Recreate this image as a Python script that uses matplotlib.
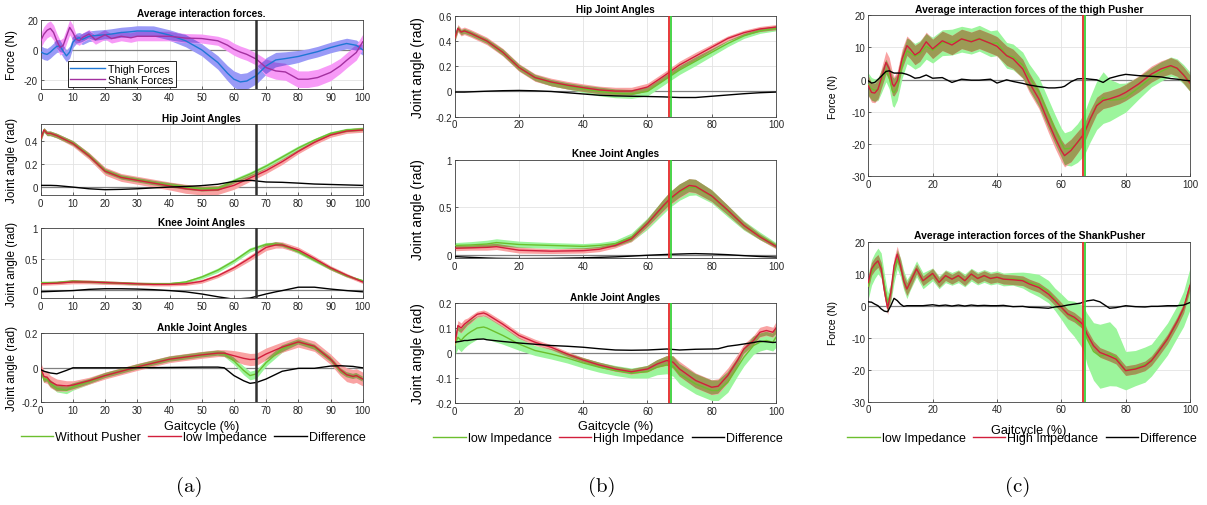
import numpy as np
import matplotlib
matplotlib.use('Agg')
import matplotlib.pyplot as plt
from matplotlib.lines import Line2D
from matplotlib.ticker import FuncFormatter

plt.rcParams['font.family'] = ['Liberation Sans', 'DejaVu Sans']
plt.rcParams['axes.unicode_minus'] = False

# ---------------- data ----------------
# (a) top: average interaction forces
A1_X = [0, 1, 2, 3, 4, 5, 6, 7, 8, 9, 10, 11, 12, 13, 15, 17, 20, 22, 25, 28, 30, 35, 40, 45, 50,
        55, 58, 60, 62, 64, 67, 70, 73, 76, 80, 83, 86, 90, 93, 95, 98, 100]
THIGH_A = [-1.3, -2.5, -3, -1.5, 0.5, 2.3, 2.5, -1, -4, -1.5, 5, 7.5, 8, 7, 9, 9.5, 10, 10.5, 11.5, 12,
           12.5, 12.4, 9.8, 6, 0, -8.4, -15.5, -19.5, -21.3, -20.7, -17, -10.7, -6.7, -5.8, -4.4, -2.8,
           -1.2, 1.5, 3.2, 4.2, 3, 0]
THIGH_A_SD = [4, 4, 4, 4, 4, 4, 4, 4, 4, 4, 3.5, 3.5, 3.5, 3.5, 3.5, 3.5, 3.5, 3.5, 3.5, 3.5,
              3.5, 3.5, 3.5, 4, 4, 4.5, 5, 5.5, 5.5, 5.5, 5.5, 5.5, 5, 4.5, 4, 3.5,
              3.5, 3.5, 3.5, 3.5, 3.5, 3.5]
SHANK_A = [6, 10.4, 13, 14.2, 11.5, 6, 1.5, 3, 9, 14.9, 11.5, 7, 6, 8.2, 10.5, 6.7, 10, 7.5, 9, 8,
           9, 9, 9, 7.8, 7.5, 6, 3.1, 0.4, -1.5, -3, -6.2, -11.8, -14, -14.7, -19.5, -19.5,
           -18.4, -15, -10.7, -7, -1.8, 5.3]
SHANK_A_SD = [5, 5, 5, 5, 5, 5, 5, 5, 5, 5, 5, 3, 3, 3, 3, 3, 3, 3, 3, 3,
              3, 3, 3, 3, 3, 3, 4, 4, 4, 4, 4, 5.5, 5.5, 5.5, 5.5, 5.5,
              5.5, 5.5, 5, 5, 5, 5]

# hip (a) and (b) share a grid
HIP_X = [0, 1, 2, 3, 5, 10, 15, 20, 25, 30, 35, 40, 45, 50, 55, 60, 65, 70, 75, 80, 85, 90, 95, 100]
HIP_A_WO = [0.42, 0.50, 0.47, 0.47, 0.45, 0.385, 0.275, 0.14, 0.085, 0.06, 0.035, 0.015, -0.005, -0.02,
            -0.015, 0.05, 0.11, 0.18, 0.26, 0.34, 0.41, 0.47, 0.50, 0.51]
HIP_A_LOW = [0.42, 0.50, 0.47, 0.47, 0.45, 0.38, 0.27, 0.135, 0.08, 0.055, 0.03, 0.005, -0.02, -0.035,
             -0.03, 0.01, 0.075, 0.14, 0.22, 0.31, 0.39, 0.455, 0.49, 0.50]
HIP_A_DIFF = [0.01, 0.01, 0.01, 0.01, 0.008, -0.005, -0.02, -0.028, -0.025, -0.02, -0.012, -0.005, 0.0,
              0.008, 0.02, 0.045, 0.055, 0.04, 0.037, 0.03, 0.022, 0.018, 0.014, 0.01]
HIP_A_WO_SD = [0.02, 0.02, 0.02, 0.02, 0.02, 0.02, 0.02, 0.02, 0.02, 0.02, 0.02, 0.02, 0.02, 0.02,
               0.02, 0.02, 0.02, 0.02, 0.02, 0.02, 0.015, 0.015, 0.015, 0.015]
HIP_A_LOW_SD = [0.02, 0.02, 0.02, 0.02, 0.02, 0.025, 0.03, 0.035, 0.035, 0.035, 0.035, 0.035, 0.04, 0.04,
                0.04, 0.035, 0.03, 0.025, 0.025, 0.02, 0.02, 0.02, 0.02, 0.02]

KNEE_A_X = [0, 5, 10, 15, 20, 25, 30, 35, 40, 45, 50, 55, 60, 65, 70, 73, 75, 80, 85, 90, 95, 100]
KNEE_A_WO = [0.12, 0.12, 0.14, 0.13, 0.12, 0.11, 0.10, 0.10, 0.10, 0.13, 0.21, 0.32, 0.47, 0.65, 0.74,
             0.745, 0.73, 0.62, 0.48, 0.35, 0.23, 0.15]
KNEE_A_LOW = [0.10, 0.11, 0.13, 0.13, 0.12, 0.11, 0.10, 0.09, 0.09, 0.10, 0.14, 0.23, 0.36, 0.52, 0.69,
              0.73, 0.73, 0.65, 0.51, 0.36, 0.24, 0.13]
KNEE_A_DIFF = [-0.03, -0.02, -0.01, 0.01, 0.02, 0.02, 0.015, 0.005, -0.01, -0.03, -0.065, -0.11, -0.15,
               -0.13, -0.065, -0.03, -0.01, 0.045, 0.045, 0.015, -0.01, -0.03]
KNEE_A_WO_SD = [0.02, 0.02, 0.02, 0.02, 0.02, 0.02, 0.02, 0.02, 0.02, 0.02, 0.03, 0.035, 0.035, 0.035,
                0.03, 0.03, 0.03, 0.03, 0.025, 0.025, 0.02, 0.02]
KNEE_A_LOW_SD = [0.025, 0.025, 0.03, 0.03, 0.03, 0.025, 0.025, 0.025, 0.025, 0.025, 0.03, 0.03, 0.035,
                 0.045, 0.05, 0.05, 0.05, 0.045, 0.04, 0.035, 0.03, 0.025]

ANK_A_X = [0, 1, 2, 3, 5, 8, 10, 15, 20, 25, 30, 40, 50, 55, 57, 60, 63, 65, 67, 70, 75, 80, 85, 90,
           93, 95, 97, 98, 100]
ANK_A_WO = [-0.005, -0.07, -0.065, -0.09, -0.12, -0.13, -0.11, -0.08, -0.045, -0.02, 0.005, 0.05, 0.075,
            0.085, 0.08, 0.04, -0.015, -0.045, -0.035, 0.03, 0.11, 0.15, 0.12, 0.05, -0.015, -0.04,
            -0.05, -0.045, -0.065]
ANK_A_LOW = [0.0, -0.05, -0.055, -0.08, -0.1, -0.105, -0.1, -0.075, -0.045, -0.02, 0.005, 0.05, 0.075,
             0.085, 0.085, 0.07, 0.055, 0.048, 0.05, 0.08, 0.12, 0.15, 0.125, 0.05, -0.01, -0.04,
             -0.05, -0.045, -0.065]
ANK_A_DIFF = [-0.01, -0.02, -0.025, -0.03, -0.035, -0.015, 0.0, 0.0, 0.0, 0.0, 0.0, 0.002, 0.004, 0.004,
              0.0, -0.045, -0.075, -0.09, -0.085, -0.065, -0.02, -0.003, -0.003, 0.01, 0.012, 0.01,
              0.008, 0.005, 0.0]
ANK_A_WO_SD = [0.01, 0.015, 0.015, 0.02, 0.02, 0.02, 0.02, 0.015, 0.015, 0.015, 0.015, 0.015, 0.015,
               0.015, 0.015, 0.02, 0.025, 0.025, 0.025, 0.02, 0.02, 0.015, 0.015, 0.015, 0.015, 0.015,
               0.015, 0.015, 0.015]
ANK_A_LOW_SD = [0.03, 0.035, 0.035, 0.035, 0.035, 0.03, 0.025, 0.02, 0.02, 0.02, 0.02, 0.02, 0.02, 0.02,
                0.02, 0.03, 0.035, 0.035, 0.035, 0.035, 0.03, 0.03, 0.03, 0.03, 0.035, 0.04, 0.04,
                0.04, 0.04]

# (b) low vs high impedance
HIP_B_HIGH = [0.42, 0.50, 0.47, 0.48, 0.46, 0.40, 0.31, 0.19, 0.11, 0.075, 0.05, 0.03, 0.012, 0.003,
              0.003, 0.035, 0.12, 0.21, 0.28, 0.35, 0.42, 0.465, 0.495, 0.51]
HIP_B_LOW = [0.42, 0.50, 0.47, 0.48, 0.46, 0.40, 0.31, 0.19, 0.11, 0.07, 0.045, 0.02, 0.0, -0.015,
             -0.02, 0.0, 0.085, 0.17, 0.24, 0.31, 0.38, 0.44, 0.48, 0.50]
HIP_B_DIFF = [-0.005, -0.005, -0.005, -0.005, -0.003, 0.002, 0.006, 0.008, 0.005, 0.0, -0.01, -0.02,
              -0.03, -0.035, -0.038, -0.04, -0.043, -0.048, -0.048, -0.038, -0.028, -0.018, -0.01, -0.005]
HIP_B_HIGH_SD = [0.03, 0.03, 0.03, 0.03, 0.03, 0.03, 0.03, 0.03, 0.03, 0.03, 0.03, 0.03, 0.03, 0.03,
                 0.03, 0.03, 0.03, 0.03, 0.03, 0.025, 0.02, 0.02, 0.02, 0.02]
HIP_B_LOW_SD = [0.02, 0.02, 0.02, 0.02, 0.02, 0.02, 0.025, 0.025, 0.025, 0.025, 0.025, 0.03, 0.035,
                0.035, 0.035, 0.035, 0.035, 0.035, 0.035, 0.03, 0.025, 0.02, 0.02, 0.02]

KNEE_B_X = [0, 5, 10, 13, 20, 30, 40, 45, 50, 55, 60, 65, 67, 70, 73, 75, 80, 85, 90, 95, 100]
KNEE_B_HIGH = [0.07, 0.075, 0.08, 0.087, 0.05, 0.04, 0.045, 0.06, 0.10, 0.17, 0.33, 0.52, 0.59, 0.67,
               0.73, 0.72, 0.62, 0.47, 0.31, 0.19, 0.09]
KNEE_B_LOW = [0.10, 0.105, 0.115, 0.13, 0.11, 0.10, 0.09, 0.10, 0.12, 0.185, 0.33, 0.51, 0.58, 0.66,
              0.71, 0.71, 0.615, 0.46, 0.31, 0.20, 0.10]
KNEE_B_DIFF = [-0.017, -0.025, -0.032, -0.035, -0.038, -0.036, -0.03, -0.025, -0.02, -0.012, -0.003,
               0.004, 0.007, 0.01, 0.013, 0.014, 0.01, 0.003, -0.007, -0.016, -0.022]
KNEE_B_HIGH_SD = [0.025, 0.025, 0.03, 0.03, 0.03, 0.025, 0.025, 0.025, 0.025, 0.03, 0.04, 0.06, 0.065,
                  0.07, 0.07, 0.07, 0.06, 0.05, 0.04, 0.03, 0.025]
KNEE_B_LOW_SD = [0.03, 0.035, 0.04, 0.04, 0.035, 0.03, 0.03, 0.03, 0.035, 0.045, 0.06, 0.075, 0.08,
                 0.085, 0.085, 0.08, 0.07, 0.06, 0.05, 0.04, 0.03]

ANK_B_X = [0, 1, 2, 3, 4, 5, 7, 9, 10, 15, 20, 25, 30, 35, 40, 45, 50, 55, 60, 63, 66, 68, 70, 75,
           80, 82, 85, 88, 90, 93, 95, 97, 99, 100]
ANK_B_HIGH = [0.035, 0.11, 0.10, 0.115, 0.125, 0.135, 0.155, 0.16, 0.155, 0.115, 0.07, 0.043, 0.023,
              -0.004, -0.028, -0.048, -0.064, -0.075, -0.064, -0.044, -0.03, -0.037, -0.064, -0.11,
              -0.137, -0.133, -0.09, -0.03, 0.016, 0.05, 0.083, 0.09, 0.083, 0.1]
ANK_B_LOW = [0.03, 0.063, 0.05, 0.065, 0.076, 0.085, 0.1, 0.104, 0.1, 0.07, 0.036, 0.01, -0.004, -0.02,
             -0.04, -0.057, -0.07, -0.08, -0.075, -0.057, -0.048, -0.053, -0.084, -0.124, -0.15, -0.15,
             -0.117, -0.057, -0.017, 0.03, 0.043, 0.05, 0.043, 0.063]
ANK_B_DIFF = [0.043, 0.045, 0.047, 0.05, 0.05, 0.052, 0.055, 0.056, 0.053, 0.046, 0.04, 0.035, 0.03,
              0.027, 0.023, 0.017, 0.012, 0.011, 0.012, 0.014, 0.016, 0.014, 0.012, 0.015, 0.016, 0.017,
              0.027, 0.032, 0.036, 0.042, 0.047, 0.045, 0.042, 0.043]
ANK_B_HIGH_SD = [0.02, 0.02, 0.02, 0.02, 0.015, 0.015, 0.012, 0.012, 0.012, 0.012, 0.012, 0.012, 0.01,
                 0.01, 0.01, 0.01, 0.01, 0.01, 0.012, 0.015, 0.02, 0.025, 0.03, 0.03, 0.03, 0.03, 0.03,
                 0.025, 0.02, 0.02, 0.02, 0.02, 0.02, 0.025]
ANK_B_LOW_SD = [0.04, 0.045, 0.045, 0.045, 0.045, 0.045, 0.045, 0.045, 0.045, 0.035, 0.025, 0.02, 0.02,
                0.02, 0.02, 0.02, 0.02, 0.02, 0.025, 0.03, 0.035, 0.04, 0.04, 0.04, 0.04, 0.04, 0.04,
                0.035, 0.035, 0.035, 0.035, 0.035, 0.035, 0.04]

# (c) pusher forces
THIGH_C_X = [0, 1, 2, 3, 4, 5.5, 6.5, 7.5, 8, 9, 10.5, 12, 13, 14.5, 16, 18, 20, 23, 26, 29, 32, 34.5,
             38, 40, 43, 45, 48, 50, 53, 56, 58, 60, 61, 63, 65, 67, 69, 71, 73, 75, 78, 80, 84, 88,
             91, 94, 96, 98, 100]
THIGH_C_HIGH = [-1.9, -4, -4.2, -3, 0.2, 5.3, 3.3, -1.4, -2.1, -0.4, 6.4, 10.5, 9.5, 7.6, 8.6, 11.7,
                9.5, 12, 10.7, 12.6, 11.7, 12.6, 11.2, 10.3, 7.4, 6.4, 3.3, -0.9, -6, -13.3, -17.9, -22,
                -23.6, -22, -19.5, -16.9, -12.2, -8.1, -6.5, -6, -5, -4, -1.4, 1.7, 3.3, 4.3, 3.5, 1.4,
                -1.1]
THIGH_C_LOW = [-1.5, -2.9, -3.3, -3, -0.8, 2.8, 0.6, -3.6, -4.1, -2.4, 4.4, 8.9, 8.3, 7.2, 8, 10.3,
               9.1, 11.4, 11.6, 12.5, 11.9, 12.8, 11.1, 11.4, 7.5, 7, 4.5, 0.8, -3.8, -10.7, -15.3,
               -19.6, -21.5, -21.3, -19.7, -17.2, -12.3, -8, -5.6, -6.4, -6.2, -5.6, -2.6, 0.7, 2.5, 4,
               3.4, 1.6, -0.7]
THIGH_C_DIFF = [-0.4, -1.1, -0.9, 0, 1, 2.5, 2.7, 2.2, 2, 2, 2, 1.6, 1.2, 0.4, 0.6, 1.4, 0.4, 0.6, -0.9,
                0.1, -0.2, -0.2, 0.1, -1.1, -0.1, -0.6, -1.2, -1.7, -2.2, -2.6, -2.6, -2.4, -2.1, -0.7,
                0.2, 0.3, 0.1, -0.1, -0.9, 0.4, 1.2, 1.6, 1.2, 1, 0.8, 0.3, 0.1, -0.2, -0.4]
THIGH_C_HIGH_SD = [3, 3, 3, 3, 3, 3.5, 3.5, 3.5, 3, 3, 3, 3, 3, 3, 3, 3, 3, 3, 3, 3, 3, 3, 3, 3, 3, 3,
                   3, 3, 3, 3.2, 3.3, 3.4, 3.5, 3.5, 3.3, 3, 2.8, 2.6, 2.5, 2.5, 2.5, 2.5, 2.5, 2.5, 2.5,
                   2.5, 2.5, 2.5, 2.5]
THIGH_C_LOW_SD = [3.5, 3.5, 3.5, 3.5, 3.5, 3.5, 3.5, 4.5, 4.5, 4, 4, 4, 4, 4, 4, 4, 4, 4, 4, 4, 4, 4,
                  4, 4, 4, 4, 4, 4, 4.5, 4.5, 4.5, 4.5, 5, 5.5, 6, 6.5, 7, 7.5, 8, 6.5, 5, 4.5, 3.5, 3,
                  3, 3, 3, 3, 3]

SHANK_C_X = [0, 1, 2, 3, 4, 5, 6, 7, 8, 9, 10, 11, 12, 13, 15, 17, 20, 22, 24, 26, 28, 30, 32, 34, 36,
             38, 40, 42, 45, 48, 50, 53, 56, 58, 60, 62, 64, 66, 67, 68, 70, 72, 75, 77, 80, 83, 86,
             88, 90, 93, 96, 98, 100]
SHANK_C_HIGH = [7.3, 11.5, 13, 14, 11.5, 4.7, -0.8, 4.2, 12.5, 16.1, 12.5, 7.8, 5.2, 7.3, 11.5, 7.8,
                10.1, 7.3, 9.4, 8.3, 9.4, 7.8, 9.9, 8.5, 9.4, 8.5, 8.9, 8.3, 8.1, 7.8, 6.8, 5.7, 3.6,
                1.6, -0.5, -2.6, -3.6, -5.2, -6.3, -8.9, -12.5, -14.6, -15.8, -16.7, -20.3, -19.8,
                -18.8, -17.2, -14.6, -10.4, -5, -0.8, 6.3]
SHANK_C_LOW = [6.1, 10.4, 12.5, 14, 12.5, 6.4, 1.1, 4.2, 10.2, 14.5, 12, 8, 5.2, 7.3, 11.5, 7.8, 9.8,
               7.3, 9.2, 8.4, 9.2, 7.9, 9.7, 8.5, 9.3, 8.5, 8.9, 8.2, 8.4, 8, 7.3, 6.3, 4.4, 2, -0.3,
               -2.8, -4.1, -6, -7.5, -10.4, -14.3, -15.8, -15, -16.1, -20.3, -19.5, -18.4, -17, -14.4,
               -10.4, -5, -1, 5.3]
SHANK_C_DIFF = [1.2, 1.1, 0.5, 0, -1, -1.7, -1.9, 0, 2.3, 1.6, 0.5, -0.2, 0, 0, 0, 0, 0.3, 0, 0.2, -0.1,
                0.2, -0.1, 0.2, 0, 0.1, 0, 0, 0.1, -0.3, -0.2, -0.5, -0.6, -0.8, -0.4, -0.2, 0.2, 0.5,
                0.8, 1.2, 1.5, 1.8, 1.2, -0.8, -0.6, 0, -0.3, -0.4, -0.2, -0.2, 0, 0, 0.2, 1]
SHANK_C_HIGH_SD = [2, 2, 2, 2, 2, 2, 2, 2, 2.5, 2.5, 2, 2, 2, 2, 1.5, 1.5, 1.5, 1.5, 1.5, 1.5, 1.5,
                   1.5, 1.5, 1.5, 1.5, 1.5, 1.5, 1.5, 1.5, 1.5, 1.5, 1.5, 1.5, 1.5, 1.5, 1.5, 1.5, 1.5,
                   1.5, 1.5, 1.5, 1.5, 1.5, 1.5, 1.5, 1.5, 1.5, 1.5, 1.5, 1.5, 1.5, 1.5, 1.5]
SHANK_C_LOW_SD = [4, 4, 4, 4, 4, 3.5, 3, 3, 3, 3, 3, 3, 3, 2.5, 2.5, 2.5, 2, 2, 2, 2, 2, 2, 2, 2, 2,
                  2, 2, 2, 2, 2.5, 3, 3.5, 3.5, 3.5, 4, 4.5, 5.5, 6.5, 7, 8, 9, 10, 10, 9, 6, 5.5, 5.5,
                  5, 5, 5, 5, 5.5, 6.5]

PUSH_ON = 67  # pusher onset (% gait cycle)

# ---------------- style ----------------
GREEN = '#6cbf2e'
RED = '#d21f3c'
GREEN_BAND = '#9cf59c'
RED_BAND = '#f9a3a3'
OLIVE = '#9c9a55'
BLUE = '#1f77d4'
PURPLE = '#a3309f'
BLUE_BAND = '#9a9af7'
PINK_BAND = '#f79af7'
BLUE_PINK = '#9568e3'
TICK = 7

W, H = 1207, 506
fig = plt.figure(figsize=(W / 100, H / 100), dpi=100)
matlab_fmt = FuncFormatter(lambda v, pos: '{:g}'.format(round(v, 6)))


def axes_px(left, top, right, bottom):
    return fig.add_axes([left / W, 1 - bottom / H, (right - left) / W, (bottom - top) / H])


def style(ax, ylim, yticks, xticks, title, tsize=7.2):
    ax.set_xlim(0, 100)
    ax.set_ylim(*ylim)
    ax.set_yticks(yticks)
    ax.set_xticks(xticks)
    ax.xaxis.set_major_formatter(matlab_fmt)
    ax.yaxis.set_major_formatter(matlab_fmt)
    ax.grid(True, color='#e3e3e3', lw=0.6)
    ax.set_axisbelow(True)
    ax.tick_params(direction='in', length=2, width=0.5, labelsize=TICK, colors='#262626', pad=2)
    for s in ax.spines.values():
        s.set_color('#404040')
        s.set_linewidth(0.6)
    ax.set_title(title, fontsize=tsize, fontweight='bold', pad=2.5)
    ax.axhline(0, color='#808080', lw=0.9, zorder=1.5)


def bands(ax, x, m1, s1, m2, s2, c1, c2, cov):
    x = np.asarray(x, float)
    m1, s1, m2, s2 = (np.asarray(v, float) for v in (m1, s1, m2, s2))
    lo1, hi1, lo2, hi2 = m1 - s1, m1 + s1, m2 - s2, m2 + s2
    ax.fill_between(x, lo1, hi1, color=c1, lw=0, zorder=2)
    ax.fill_between(x, lo2, hi2, color=c2, lw=0, zorder=2)
    lo, hi = np.maximum(lo1, lo2), np.minimum(hi1, hi2)
    ax.fill_between(x, lo, hi, where=hi > lo, interpolate=True, color=cov, lw=0, zorder=2.1)


def pair_plot(ax, x, g, gs, r, rs, d):
    bands(ax, x, g, gs, r, rs, GREEN_BAND, RED_BAND, OLIVE)
    ax.plot(x, g, color=GREEN, lw=1.0, zorder=3)
    ax.plot(x, r, color=RED, lw=1.0, zorder=3.1)
    ax.plot(x, d, color='black', lw=1.0, zorder=3.2)


def onset_black(ax):
    ax.axvline(PUSH_ON, color='#303030', lw=1.8, zorder=4)


def onset_pair(ax):
    ax.axvline(PUSH_ON - 0.3, color='#e52a2a', lw=1.3, zorder=4)
    ax.axvline(PUSH_ON + 0.3, color='#3ad13a', lw=1.3, zorder=4)


XT_A = list(range(0, 101, 10))
XT_BC = list(range(0, 101, 20))

# ---------------- panel (a) ----------------
ax = axes_px(40.7, 20.7, 362.7, 90)
style(ax, (-26, 20), [-20, 0, 20], XT_A, 'Average interaction forces.')
bands(ax, A1_X, THIGH_A, THIGH_A_SD, SHANK_A, SHANK_A_SD, BLUE_BAND, PINK_BAND, BLUE_PINK)
ax.plot(A1_X, THIGH_A, color=BLUE, lw=1.0, zorder=3, label='Thigh Forces')
ax.plot(A1_X, SHANK_A, color=PURPLE, lw=1.0, zorder=3, label='Shank Forces')
onset_black(ax)
leg = ax.legend(loc='lower left', bbox_to_anchor=(0.085, 0.025), fontsize=7.6, frameon=True,
                fancybox=False, framealpha=1, edgecolor='black', handlelength=3.3,
                handletextpad=0.3, borderpad=0.2, labelspacing=0.15, borderaxespad=0)
leg.get_frame().set_linewidth(0.6)
leg.set_zorder(6)
ax.set_ylabel('Force (N)', fontsize=8.5)
ax.yaxis.set_label_coords(-0.072, 0.5)

ax = axes_px(40.7, 125.3, 362.7, 196)
style(ax, (-0.075, 0.55), [0, 0.2, 0.4], XT_A, 'Hip Joint Angles')
pair_plot(ax, HIP_X, HIP_A_WO, HIP_A_WO_SD, HIP_A_LOW, HIP_A_LOW_SD, HIP_A_DIFF)
onset_black(ax)
ax.set_ylabel('Joint angle (rad)', fontsize=8.5)
ax.yaxis.set_label_coords(-0.072, 0.5)

ax = axes_px(40.7, 229.3, 362.7, 299.3)
style(ax, (-0.135, 1), [0, 0.5, 1], XT_A, 'Knee Joint Angles')
pair_plot(ax, KNEE_A_X, KNEE_A_WO, KNEE_A_WO_SD, KNEE_A_LOW, KNEE_A_LOW_SD, KNEE_A_DIFF)
onset_black(ax)
ax.set_ylabel('Joint angle (rad)', fontsize=8.5)
ax.yaxis.set_label_coords(-0.072, 0.5)

ax = axes_px(40.7, 334.3, 362.7, 403.3)
style(ax, (-0.2, 0.2), [-0.2, 0, 0.2], XT_A, 'Ankle Joint Angles')
pair_plot(ax, ANK_A_X, ANK_A_WO, ANK_A_WO_SD, ANK_A_LOW, ANK_A_LOW_SD, ANK_A_DIFF)
onset_black(ax)
ax.set_ylabel('Joint angle (rad)', fontsize=8.5)
ax.yaxis.set_label_coords(-0.072, 0.5)

# ---------------- panel (b) ----------------
ax = axes_px(454.7, 16.7, 776, 117.7)
style(ax, (-0.2, 0.6), [-0.2, 0, 0.2, 0.4, 0.6], XT_BC, 'Hip Joint Angles')
pair_plot(ax, HIP_X, HIP_B_LOW, HIP_B_LOW_SD, HIP_B_HIGH, HIP_B_HIGH_SD, HIP_B_DIFF)
onset_pair(ax)
ax.set_ylabel('Joint angle (rad)', fontsize=10)
ax.yaxis.set_label_coords(-0.092, 0.5)

ax = axes_px(454.7, 160.7, 776, 259.3)
style(ax, (-0.035, 1), [0, 0.5, 1], XT_BC, 'Knee Joint Angles')
pair_plot(ax, KNEE_B_X, KNEE_B_LOW, KNEE_B_LOW_SD, KNEE_B_HIGH, KNEE_B_HIGH_SD, KNEE_B_DIFF)
onset_pair(ax)
ax.set_ylabel('Joint angle (rad)', fontsize=10)
ax.yaxis.set_label_coords(-0.092, 0.5)

ax = axes_px(454.7, 304, 776, 404)
style(ax, (-0.2, 0.2), [-0.2, -0.1, 0, 0.1, 0.2], XT_BC, 'Ankle Joint Angles')
pair_plot(ax, ANK_B_X, ANK_B_LOW, ANK_B_LOW_SD, ANK_B_HIGH, ANK_B_HIGH_SD, ANK_B_DIFF)
onset_pair(ax)
ax.set_ylabel('Joint angle (rad)', fontsize=10)
ax.yaxis.set_label_coords(-0.092, 0.5)

# ---------------- panel (c) ----------------
ax = axes_px(868.3, 16, 1190, 177.3)
style(ax, (-30, 20), [-30, -20, -10, 0, 10, 20], XT_BC, 'Average interaction forces of the thigh Pusher',
      tsize=7.5)
pair_plot(ax, THIGH_C_X, THIGH_C_LOW, THIGH_C_LOW_SD, THIGH_C_HIGH, THIGH_C_HIGH_SD, THIGH_C_DIFF)
onset_pair(ax)
ax.set_ylabel('Force (N)', fontsize=7.5)
ax.yaxis.set_label_coords(-0.094, 0.5)

ax = axes_px(868.3, 242.7, 1190, 402.7)
style(ax, (-30, 20), [-30, -20, -10, 0, 10, 20], XT_BC, 'Average interaction forces of the ShankPusher',
      tsize=7.5)
pair_plot(ax, SHANK_C_X, SHANK_C_LOW, SHANK_C_LOW_SD, SHANK_C_HIGH, SHANK_C_HIGH_SD, SHANK_C_DIFF)
onset_pair(ax)
ax.set_ylabel('Force (N)', fontsize=7.5)
ax.yaxis.set_label_coords(-0.094, 0.5)

# ---------------- x labels, legends, captions ----------------
for cx, cy in [(201.7, 427), (615.3, 427), (1029, 431.5)]:
    fig.text(cx / W, 1 - cy / H, 'Gaitcycle (%)', fontsize=9.1, ha='center', va='center')


def bottom_legend(cx, cy, labels):
    handles = [Line2D([], [], color=GREEN, lw=1.0), Line2D([], [], color=RED, lw=1.0),
               Line2D([], [], color='black', lw=1.0)]
    fig.legend(handles, labels, loc='center', bbox_to_anchor=(cx / W, 1 - cy / H), ncol=3,
               frameon=False, fontsize=9, handlelength=2.6, handletextpad=0.15, columnspacing=0.6,
               borderpad=0, borderaxespad=0)


bottom_legend(193, 438.5, ['Without Pusher', 'low Impedance', 'Difference'])
bottom_legend(608, 439, ['low Impedance', 'High Impedance', 'Difference'])
bottom_legend(1022, 439, ['low Impedance', 'High Impedance', 'Difference'])

for cx, lab in [(189, '(a)'), (602, '(b)'), (1018, '(c)')]:
    fig.text(cx / W, 1 - 487 / H, lab, fontsize=15, family='cmr10', ha='center', va='center')

fig.savefig('out.png', dpi=100)
